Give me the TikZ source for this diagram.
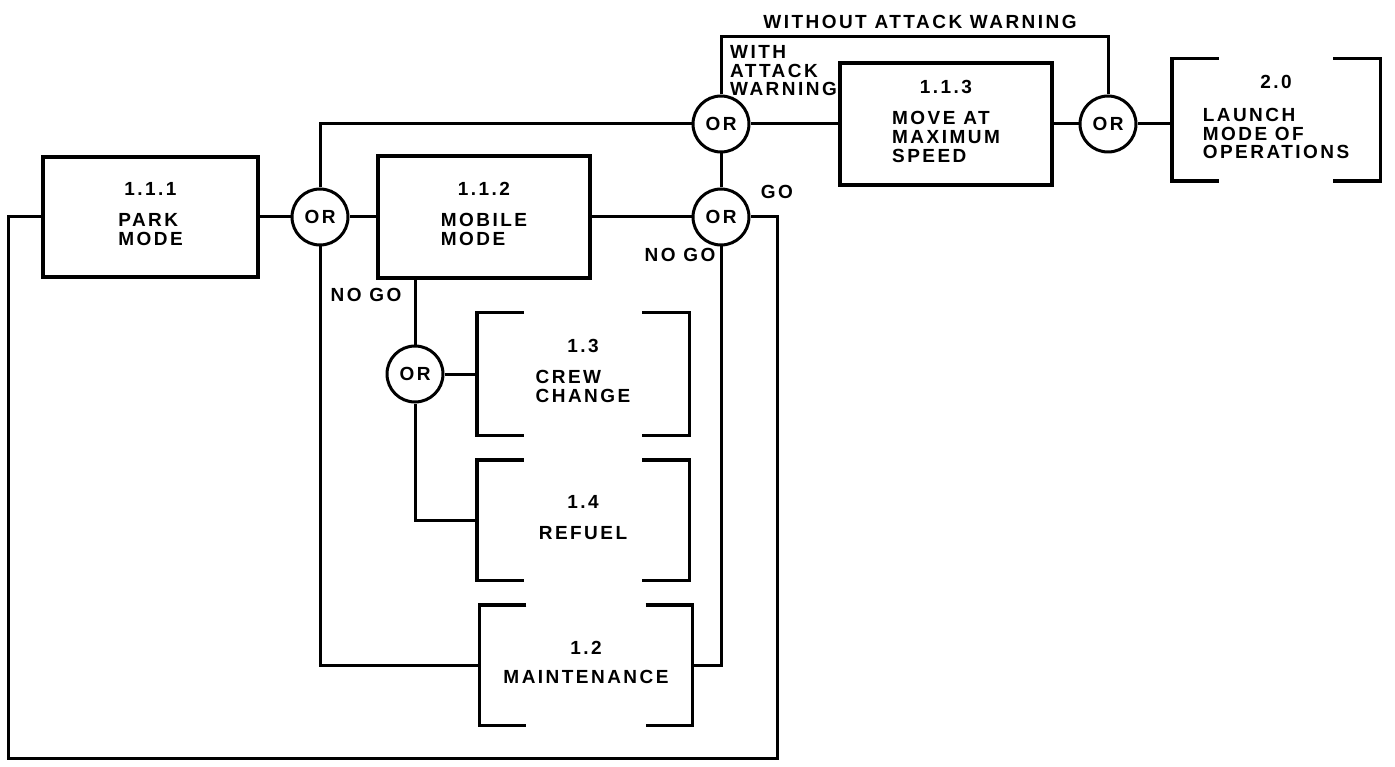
\documentclass[tikz,border=0pt]{standalone}
\usepackage{fontspec}
\newfontfamily\lbl[LetterSpace=13]{Liberation Sans}
\newcommand\tl[1]{\begin{tabular}[t]{@{}l@{}}#1\end{tabular}}
\newcommand\brk[1]{%
  \draw[bracketline] ([xshift=47pt]#1.north west) -- (#1.north west) -- (#1.south west) -- ([xshift=47pt]#1.south west);
  \draw[bracketline] ([xshift=-47pt]#1.north east) -- (#1.north east) -- (#1.south east) -- ([xshift=-47pt]#1.south east);}
\begin{document}
\begin{tikzpicture}[x=1pt,y=-1pt,
  every node/.style={font=\lbl\bfseries\fontsize{19}{18.5}\selectfont, inner sep=0pt},
  box/.style={draw, line width=3.4pt, align=center},
  bbox/.style={align=center},
  bracketline/.style={line width=3.4pt},
  orgate/.style={draw, circle, line width=3pt, minimum size=56pt},
  conn/.style={line width=3pt}
]
\useasboundingbox (0,0) rectangle (1395,767);

% process boxes
\node[box, minimum width=215pt, minimum height=120pt] (A) at (150.5,217) {1.1.1\\[12.5pt]\tl{PARK\\MODE}};
\node[box, minimum width=212pt, minimum height=122pt] (B) at (484,217) {1.1.2\\[12.5pt]\tl{MOBILE\\MODE}};
\node[box, minimum width=212pt, minimum height=122pt] (C) at (946,124) {1.1.3\\[12.5pt]\tl{MOVE AT\\MAXIMUM\\SPEED}};
\node[bbox, minimum width=208pt, minimum height=122pt] (D) at (1276,120) {2.0\\[14pt]\tl{LAUNCH\\MODE OF\\OPERATIONS}};
\brk{D}
\node[bbox, minimum width=212pt, minimum height=122pt] (CR) at (583,374) {1.3\\[12.5pt]\tl{CREW\\CHANGE}};
\brk{CR}
\node[bbox, minimum width=212pt, minimum height=120pt] (RF) at (583,520) {1.4\\[12.5pt]\tl{REFUEL}};
\brk{RF}
\node[bbox, minimum width=213pt, minimum height=120pt] (MT) at (586,665) {1.2\\[10pt]\tl{MAINTENANCE}};
\brk{MT}

% OR gates
\node[orgate] (O1) at (320,217) {OR};
\node[orgate] (Oa) at (721,124) {OR};
\node[orgate] (Ob) at (721,217) {OR};
\node[orgate] (Oc) at (1108,124) {OR};
\node[orgate] (O3) at (415,374) {OR};

% labels
\node[anchor=west, align=left] (lw) at (730,71) {WITH\\ATTACK\\WARNING};
\node (lwo) at (920,22) {WITHOUT ATTACK WARNING};
\node (go) at (777,192) {GO};
\node (ng1) at (680,255) {NO GO};
\node (ng2) at (366,295) {NO GO};

% free corner points
\coordinate (top) at (0,37);
\coordinate (r1) at (777,758);
\coordinate (l1) at (8,758);

% connectors
\draw[conn] (A) -- (O1);
\draw[conn] (O1) -- (B);
\draw[conn] (O1.north) |- (Oa.west);
\draw[conn] (Oa) -- (Ob);
\draw[conn] (B) -- (Ob);
\draw[conn] (Oa) -- (C);
\draw[conn] (C) -- (Oc);
\draw[conn] (Oc.east) -- (Oc.east -| D.west);
\draw[conn] (Oa.north) -- (Oa.north |- top) -| (Oc.north);
\draw[conn] (Ob.east) -| (r1) -- (l1) |- (A.west);
\draw[conn] (Ob.south) |- (MT.east);
\draw[conn] (O1.south) |- (MT.west);
\draw[conn] (B.south -| O3) -- (O3);
\draw[conn] (O3) -- (CR);
\draw[conn] (O3.south) |- (RF.west);
\end{tikzpicture}
\end{document}
